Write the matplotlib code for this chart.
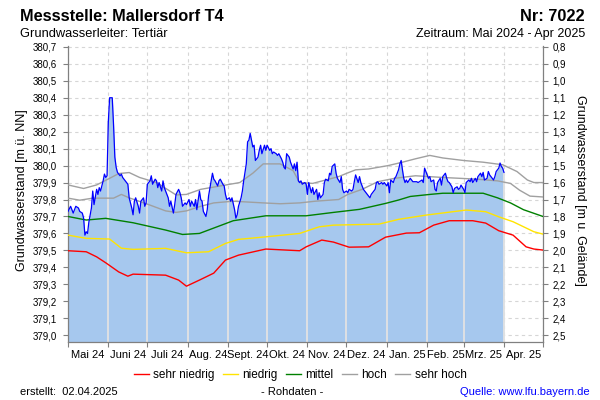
import matplotlib
matplotlib.use("Agg")
import matplotlib.pyplot as plt
from matplotlib.lines import Line2D
from matplotlib.ticker import FuncFormatter
import numpy as np
import pandas as pd

plt.rcParams['font.family'] = ['Liberation Sans', 'DejaVu Sans']

# ---------------- data ----------------
start_datum = "2024-05-01"
end_datum = "2025-05-01"
gelaende = 381.5  # m ü. NN (Geländeoberkante)

monate = ['Mai 24', 'Juni 24', 'Juli 24', 'Aug. 24', 'Sept. 24', 'Okt. 24',
          'Nov. 24', 'Dez. 24', 'Jan. 25', 'Feb. 25', 'Mrz. 25', 'Apr. 25']

# Messwerte (Tag seit 01.05.2024, Wasserstand m ü. NN)
tag_mess = [0, 2, 4, 6, 8, 9, 11, 12, 13, 14, 15, 16, 18, 19, 20, 22, 23, 24, 25, 27,
            28, 29, 30, 31, 32, 34, 35, 36, 37, 38, 40, 41, 42, 44, 46, 47, 49, 50, 51, 52,
            54, 55, 56, 58, 59, 60, 61, 63, 64, 65, 67, 68, 69, 70, 72, 73, 74, 76, 77, 78,
            79, 81, 82, 83, 85, 86, 87, 88, 90, 91, 93, 94, 95, 97, 98, 99, 101, 102, 103, 104,
            106, 107, 108, 110, 111, 112, 113, 115, 116, 117, 119, 120, 121, 122, 124, 125, 126, 128, 129, 130,
            131, 133, 134, 135, 137, 138, 139, 140, 142, 143, 144, 146, 147, 148, 149, 151, 152, 153, 155, 156,
            157, 158, 160, 161, 162, 164, 165, 166, 167, 168, 170, 171, 173, 174, 175, 176, 177, 178, 179, 180,
            182, 183, 184, 185, 187, 188, 189, 191, 192, 193, 194, 196, 197, 198, 200, 201, 202, 203, 205, 206,
            207, 209, 210, 211, 212, 214, 215, 216, 218, 219, 220, 221, 223, 224, 225, 227, 228, 229, 230, 232,
            233, 234, 236, 237, 238, 239, 241, 242, 243, 245, 246, 247, 248, 250, 251, 252, 254, 255, 256, 257,
            258, 259, 260, 261, 263, 264, 265, 268, 269, 272, 273, 274, 275, 277, 278, 279, 281, 282, 283, 284,
            286, 287, 288, 290, 291, 292, 293, 295, 296, 297, 299, 300, 301, 302, 304, 305, 306, 308, 309, 310,
            311, 313, 314, 315, 317, 318, 319, 320, 322, 323, 324, 326, 327, 328, 329, 331, 332, 333, 334, 335]
wert_mess = [379.73, 379.76, 379.72, 379.76, 379.75, 379.73, 379.72, 379.69, 379.59, 379.61,
             379.60, 379.665, 379.75, 379.85, 379.77, 379.86, 379.83, 379.87, 379.85, 379.91,
             379.95, 379.93, 379.94, 380.26, 380.40, 380.40, 380.24, 380.05, 379.99, 379.96,
             379.94, 379.95, 379.93, 379.91, 379.89, 379.81, 379.75, 379.71, 379.79, 379.81,
             379.76, 379.72, 379.79, 379.81, 379.76, 379.78, 379.89, 379.91, 379.94, 379.89,
             379.92, 379.91, 379.87, 379.90, 379.85, 379.91, 379.87, 379.83, 379.81, 379.76,
             379.79, 379.72, 379.77, 379.83, 379.86, 379.84, 379.81, 379.76, 379.78, 379.77,
             379.80, 379.76, 379.79, 379.76, 379.80, 379.74, 379.85, 379.80, 379.79, 379.73,
             379.70, 379.74, 379.82, 379.91, 379.955, 379.92, 379.91, 379.88, 379.91, 379.92,
             379.89, 379.88, 379.83, 379.80, 379.81, 379.79, 379.81, 379.74, 379.69, 379.71,
             379.76, 379.81, 379.85, 379.91, 380.01, 380.14, 380.15, 380.19, 380.11, 380.12,
             380.03, 380.05, 380.09, 380.12, 380.07, 380.12, 380.09, 380.12, 380.09, 380.10,
             380.07, 380.08, 380.07, 380.06, 380.07, 380.04, 380.02, 379.99, 379.98, 380.07,
             380.05, 380.02, 379.98, 380.01, 379.97, 380.02, 379.91, 379.90, 379.91, 379.89,
             379.90, 379.89, 379.83, 379.90, 379.84, 379.87, 379.83, 379.86, 379.80, 379.84,
             379.81, 379.83, 379.90, 379.92, 379.91, 379.955, 379.945, 379.995, 380.01, 379.955,
             379.925, 379.90, 379.935, 379.86, 379.84, 379.85, 379.84, 379.86, 379.85, 379.86,
             379.905, 379.945, 379.90, 379.935, 379.90, 379.86, 379.85, 379.84, 379.83, 379.81,
             379.83, 379.84, 379.86, 379.90, 379.905, 379.89, 379.90, 379.89, 379.90, 379.88,
             379.90, 379.84, 379.915, 379.90, 379.925, 379.935, 379.975, 380.01, 380.03, 379.975,
             379.925, 379.90, 379.915, 379.90, 379.925, 379.915, 379.905, 379.905, 379.90, 379.915,
             379.90, 379.985, 379.965, 379.925, 379.935, 379.905, 379.915, 379.86, 379.85, 379.90,
             379.925, 379.885, 379.935, 379.955, 379.925, 379.905, 379.90, 379.875, 379.84, 379.865,
             379.875, 379.86, 379.865, 379.885, 379.86, 379.84, 379.90, 379.915, 379.905, 379.925,
             379.90, 379.925, 379.905, 379.935, 379.955, 379.935, 379.96, 379.915, 379.925, 379.965,
             379.945, 379.925, 379.915, 379.935, 379.965, 379.985, 380.015, 379.995, 379.985, 379.96]

# Kennlinien (Tag seit 01.05.2024, m ü. NN)
tag_sn = [0, 14, 22, 29, 39, 46, 50, 75, 85, 91, 101, 112, 121, 131, 152, 178, 183, 195,
          204, 216, 231, 244, 260, 270, 281, 293, 311, 321, 331, 342, 352, 358, 365]
wert_sn = [379.498, 379.492, 379.462, 379.427, 379.373, 379.348, 379.36, 379.354, 379.325,
           379.289, 379.325, 379.366, 379.443, 379.472, 379.508, 379.498, 379.521, 379.561,
           379.549, 379.519, 379.521, 379.578, 379.602, 379.604, 379.649, 379.675, 379.675,
           379.661, 379.616, 379.59, 379.521, 379.508, 379.502]

tag_n = [0, 14, 32, 41, 50, 75, 91, 108, 121, 131, 152, 178, 193, 204, 239, 254, 275,
         306, 321, 331, 342, 358, 365]
wert_n = [379.59, 379.571, 379.567, 379.513, 379.506, 379.512, 379.486, 379.492, 379.541,
          379.565, 379.58, 379.60, 379.639, 379.649, 379.655, 379.683, 379.708, 379.738,
          379.728, 379.698, 379.669, 379.61, 379.596]

tag_m = [0, 14, 29, 50, 75, 88, 101, 127, 152, 183, 204, 224, 244, 254, 263, 278, 288,
         319, 330, 340, 350, 365]
wert_m = [379.70, 379.679, 379.689, 379.663, 379.62, 379.594, 379.60, 379.675, 379.704,
          379.704, 379.724, 379.742, 379.777, 379.797, 379.818, 379.83, 379.837, 379.837,
          379.81, 379.78, 379.74, 379.70]

tag_h = [0, 9, 19, 35, 41, 47, 62, 75, 83, 91, 102, 112, 127, 150, 163, 178, 190, 208,
         215, 226, 238, 251, 267, 288, 314, 330, 340, 347, 355, 365]
wert_h = [379.808, 379.796, 379.808, 379.808, 379.83, 379.81, 379.77, 379.733, 379.724,
          379.733, 379.76, 379.78, 379.79, 379.78, 379.775, 379.78, 379.79, 379.80, 379.83,
          379.86, 379.905, 379.925, 379.94, 379.93, 379.92, 379.91, 379.895, 379.855,
          379.82, 379.815]

tag_sh = [0, 12, 22, 32, 39, 47, 55, 68, 83, 91, 102, 117, 132, 142, 150, 163, 173, 178,
          188, 208, 214, 221, 231, 246, 257, 267, 278, 288, 304, 319, 334, 345, 353, 358, 365]
wert_sh = [379.886, 379.865, 379.886, 379.925, 379.953, 379.959, 379.93, 379.90, 379.827,
           379.83, 379.86, 379.88, 379.90, 379.955, 380.01, 380.01, 379.97, 379.90, 379.895,
           379.935, 379.954, 379.975, 379.98, 380.0, 380.02, 380.04, 380.06, 380.045, 380.03,
           380.02, 380.005, 379.965, 379.915, 379.90, 379.90]

kennlinien = [
    ('sehr niedrig', tag_sn, wert_sn, '#ff0000'),
    ('niedrig', tag_n, wert_n, '#ffe400'),
    ('mittel', tag_m, wert_m, '#008000'),
    ('hoch', tag_h, wert_h, '#a0a0a0'),
    ('sehr hoch', tag_sh, wert_sh, '#a0a0a0'),
]

# ---------------- figure ----------------
W, H = 600, 400
fig = plt.figure(figsize=(W / 100, H / 100), dpi=100)
L, R, T, B = 68, 543, 46, 342
ax = fig.add_axes([L / W, 1 - B / H, (R - L) / W, (B - T) / H])

t0 = pd.Timestamp(start_datum)
t1 = pd.Timestamp(end_datum)


def to_date(days):
    return t0 + pd.to_timedelta(np.asarray(days), unit='D')


ymin, ymax = 378.96, 380.705
ax.set_xlim(t0, t1)
ax.set_ylim(ymin, ymax)

x_mess = to_date(tag_mess)
ax.fill_between(x_mess, wert_mess, ymin, color='#a6c8ee', linewidth=0, zorder=1.5)

# month separators inside the filled area
month_starts = pd.date_range(t0, t1, freq='MS')
for ms in month_starts[1:-1]:
    d = (ms - t0).days
    if d <= tag_mess[-1]:
        yv = np.interp(d, tag_mess, wert_mess)
        ax.vlines(ms, ymin, yv, color='#e2e2e2', linewidth=1.3, zorder=1.8)

for name, tg, wv, col in kennlinien:
    ax.plot(to_date(tg), wv, color=col, linewidth=1.0, zorder=3)

ax.plot(x_mess, wert_mess, color='#0000ff', linewidth=0.9, zorder=4)

# grid
ax.set_axisbelow(True)
ax.grid(True, which='major', color='#d6d6d6', linestyle=(0, (3, 3)), linewidth=0.8)

# y axis left
yticks = np.round(np.arange(379.0, 380.71, 0.1), 1)
ax.set_yticks(yticks)
ax.yaxis.set_major_formatter(FuncFormatter(lambda v, p: f"{v:.1f}".replace('.', ',')))
ax.tick_params(axis='y', which='major', direction='out', length=3.6, width=0.8,
               color='#808080', pad=4.3, labelsize=7, labelcolor='black')

# x axis: month boundaries as ticks, labels at mid-month
ax.set_xticks(month_starts)
ax.set_xticklabels([''] * len(month_starts))
mids = [month_starts[i] + (month_starts[i + 1] - month_starts[i]) / 2 for i in range(len(month_starts) - 1)]
ax.set_xticks(mids, minor=True)
ax.set_xticklabels(monate, minor=True)
ax.tick_params(axis='x', which='major', direction='out', length=3.6, width=0.8, color='#808080')
ax.tick_params(axis='x', which='minor', length=0, pad=6, labelsize=8)

for s in ['top', 'right']:
    ax.spines[s].set_visible(False)
for s in ['left', 'bottom']:
    ax.spines[s].set_color('#808080')
    ax.spines[s].set_linewidth(0.9)

# right axis: depth below ground
sec = ax.secondary_yaxis('right', functions=(lambda v: gelaende - v, lambda t: gelaende - t))
rticks = np.round(np.arange(0.8, 2.51, 0.1), 1)
sec.set_yticks(rticks)
sec.yaxis.set_major_formatter(FuncFormatter(lambda v, p: f"{v:.1f}".replace('.', ',')))
sec.tick_params(axis='y', direction='out', length=3.6, width=0.8, color='#808080',
                pad=3, labelsize=7, labelcolor='black')
sec.spines['right'].set_color('#808080')
sec.spines['right'].set_linewidth(0.9)

# axis titles
fig.text(22 / W, 1 - 190 / H, 'Grundwasserstand [m ü. NN]', rotation=90,
         ha='center', va='center', fontsize=9)
fig.text(580 / W, 1 - 190 / H, 'Grundwasserstand [m u. Gelände]', rotation=270,
         ha='center', va='center', fontsize=9)

# header
fig.text(20 / W, 1 - 21 / H, 'Messstelle: Mallersdorf T4', ha='left', va='baseline',
         fontsize=11.8, fontweight='bold')
fig.text(585 / W, 1 - 21 / H, 'Nr: 7022', ha='right', va='baseline',
         fontsize=11.8, fontweight='bold')
fig.text(20 / W, 1 - 37 / H, 'Grundwasserleiter: Tertiär', ha='left', va='baseline', fontsize=9.3)
fig.text(585 / W, 1 - 37 / H, 'Zeitraum: Mai 2024 - Apr 2025', ha='right', va='baseline', fontsize=9)

# legend
handles = [Line2D([0], [0], color=c, linewidth=1.0) for _, _, _, c in kennlinien]
labels = [n for n, _, _, _ in kennlinien]
fig.legend(handles, labels, loc='center', bbox_to_anchor=(300 / W, 1 - 375 / H), ncol=5,
           frameon=False, fontsize=8.5, handlelength=1.3, handletextpad=0.35,
           columnspacing=0.7, borderpad=0)

# footer
fig.text(20 / W, 1 - 392 / H, 'erstellt:  02.04.2025', ha='left', va='center', fontsize=8)
fig.text(292 / W, 1 - 392 / H, '- Rohdaten -', ha='center', va='center', fontsize=8)
fig.text(590 / W, 1 - 392 / H, 'Quelle: www.lfu.bayern.de', ha='right', va='center',
         fontsize=8, color='#0000ff')

fig.savefig('out.png', dpi=100)
